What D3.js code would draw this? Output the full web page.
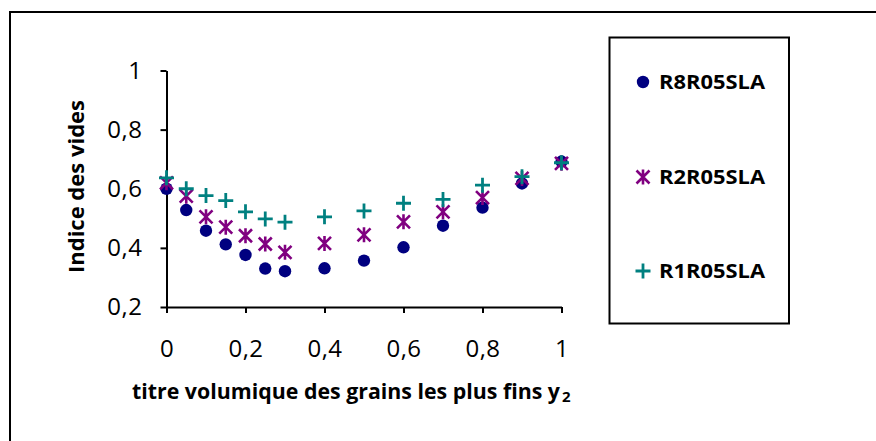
<!DOCTYPE html>
<html>
<head>
<meta charset="utf-8">
<script src="https://cdn.jsdelivr.net/npm/d3@7"></script>
<style>
  body { margin: 0; background: #fff; }
  svg { display: block; font-family: "Open Sans", "DejaVu Sans", sans-serif; }
</style>
</head>
<body>
<div id="chart"></div>
<script>
// x = titre volumique des grains les plus fins
const xValues = [0, 0.05, 0.1, 0.15, 0.2, 0.25, 0.3, 0.4, 0.5, 0.6, 0.7, 0.8, 0.9, 1];
const r8r05sla = [0.600, 0.528, 0.458, 0.412, 0.376, 0.330, 0.321, 0.331, 0.357, 0.402, 0.475, 0.536, 0.618, 0.692];
const r2r05sla = [0.620, 0.575, 0.505, 0.470, 0.441, 0.413, 0.385, 0.415, 0.444, 0.488, 0.522, 0.570, 0.635, 0.686];
const r1r05sla = [0.637, 0.600, 0.577, 0.560, 0.522, 0.498, 0.487, 0.505, 0.525, 0.551, 0.564, 0.612, 0.641, 0.688];
const seriesNames = ["R8R05SLA", "R2R05SLA", "R1R05SLA"];
const xTicks = [0, 0.2, 0.4, 0.6, 0.8, 1];
const yTicks = [0.2, 0.4, 0.6, 0.8, 1];

const width = 876, height = 441;
const fmt = d => String(d).replace(".", ",");

const svg = d3.select("#chart").append("svg")
    .attr("width", width)
    .attr("height", height);

// outer frame (open to the right and bottom)
svg.append("rect")
    .attr("x", 10).attr("y", 12)
    .attr("width", 900).attr("height", 500)
    .attr("fill", "none")
    .attr("stroke", "#000")
    .attr("stroke-width", 2);

const x = d3.scaleLinear().domain([0, 1]).range([166.5, 561.5]);
const y = d3.scaleLinear().domain([0.2, 1]).range([307, 70.5]);

// axes
const xAxis = svg.append("g")
    .attr("transform", `translate(0,${y(0.2)})`)
    .call(d3.axisBottom(x).tickValues(xTicks).tickFormat(fmt).tickSize(6).tickSizeOuter(0).tickPadding(27));
const yAxis = svg.append("g")
    .attr("transform", `translate(${x(0)},0)`)
    .call(d3.axisLeft(y).tickValues(yTicks).tickFormat(fmt).tickSize(6).tickSizeOuter(0).tickPadding(18));

[xAxis, yAxis].forEach(g => {
    g.select(".domain").attr("stroke-width", 2);
    g.selectAll(".tick line").attr("stroke-width", 2);
    g.selectAll(".tick text")
        .attr("font-size", 24)
        .attr("font-family", "'Open Sans', sans-serif")
        .attr("letter-spacing", 0.5)
        .attr("fill", "#000");
});

// axis titles
const xTitle = svg.append("text")
    .attr("x", 132)
    .attr("y", 399)
    .attr("font-size", 21)
    .attr("font-weight", "bold");
xTitle.append("tspan")
    .attr("textLength", 428)
    .attr("lengthAdjust", "spacingAndGlyphs")
    .text("titre volumique des grains les plus fins y");
xTitle.append("tspan").attr("font-size", 15).attr("dy", 3).attr("dx", 2).text("2");

svg.append("text")
    .attr("transform", `translate(84,186.5) rotate(-90)`)
    .attr("text-anchor", "middle")
    .attr("font-size", 21)
    .attr("font-weight", "bold")
    .attr("textLength", 173)
    .attr("lengthAdjust", "spacingAndGlyphs")
    .text("Indice des vides");

// marker shapes
const markers = {
    circle: (g, c) => g.append("circle").attr("r", 6.2).attr("fill", c),
    star: (g, c) => g.append("path")
        .attr("d", "M-6.5,-6.5L6.5,6.5M-6.5,6.5L6.5,-6.5M0,-7.5L0,7.5")
        .attr("stroke", c).attr("stroke-width", 2.6).attr("fill", "none"),
    plus: (g, c) => g.append("path")
        .attr("d", "M-7.5,0L7.5,0M0,-7.5L0,7.5")
        .attr("stroke", c).attr("stroke-width", 2.8).attr("fill", "none")
};

const series = [
    { name: seriesNames[0], values: r8r05sla, color: "#000080", marker: "circle" },
    { name: seriesNames[1], values: r2r05sla, color: "#800080", marker: "star" },
    { name: seriesNames[2], values: r1r05sla, color: "#008080", marker: "plus" }
];

series.forEach(s => {
    const pts = svg.append("g").selectAll("g")
        .data(xValues.map((xv, i) => ({ x: xv, y: s.values[i] })))
        .enter().append("g")
        .attr("transform", d => `translate(${x(d.x)},${y(d.y)})`);
    pts.each(function () { markers[s.marker](d3.select(this), s.color); });
});

// legend
svg.append("rect")
    .attr("x", 609.5).attr("y", 37.5)
    .attr("width", 179.5).attr("height", 286)
    .attr("fill", "none")
    .attr("stroke", "#000")
    .attr("stroke-width", 2);

const legendY = [82, 177, 271];
series.forEach((s, i) => {
    const g = svg.append("g").attr("transform", `translate(643,${legendY[i]})`);
    markers[s.marker](g, s.color);
    g.append("text")
        .attr("x", 16)
        .attr("dy", "0.36em")
        .attr("font-size", 20)
        .attr("font-weight", "bold")
        .attr("textLength", 106)
        .attr("lengthAdjust", "spacingAndGlyphs")
        .text(s.name);
});
</script>
</body>
</html>
